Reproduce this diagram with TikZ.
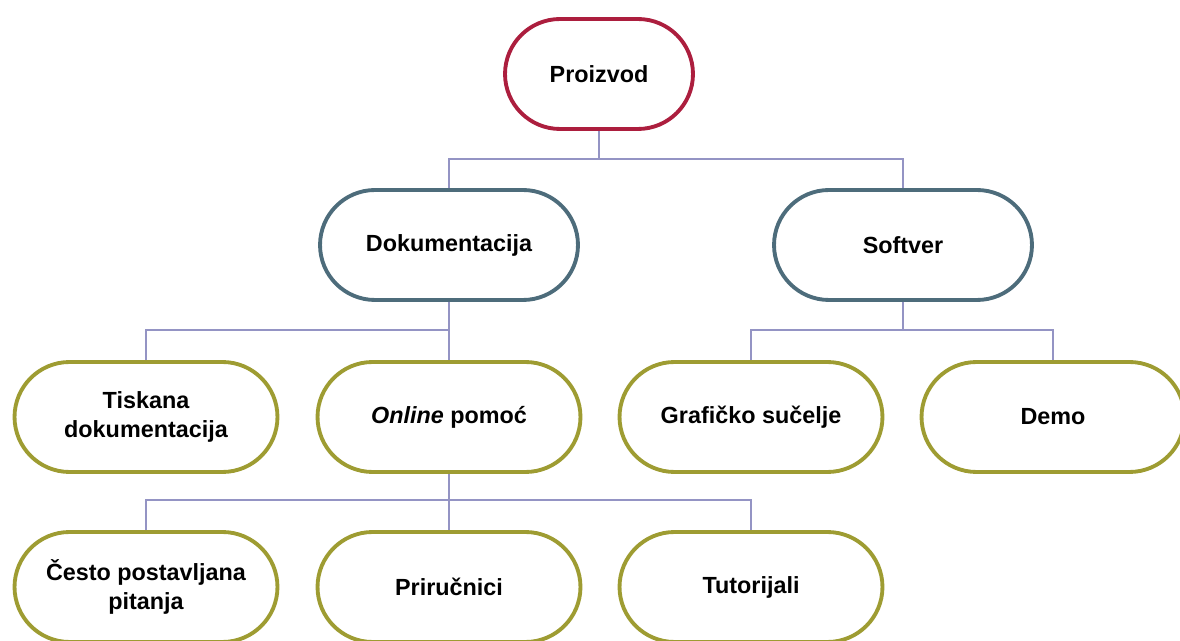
\documentclass[tikz,border=0pt]{standalone}
\usepackage{fontspec}
\setmainfont{Liberation Sans}
\usepackage{tikz}

\definecolor{prodred}{HTML}{AC1E3E}
\definecolor{groupblue}{HTML}{4D6C7B}
\definecolor{leafolive}{HTML}{9E9C32}
\definecolor{linkblue}{HTML}{9494C4}

\begin{document}
\begin{tikzpicture}[x=0.02cm,y=-0.02cm]
    \tikzstyle{pill}=[rectangle,draw,fill=white,line width=2.2pt,rounded corners=1.1cm,minimum height=2.2cm,align=center,font=\fontsize{13.3}{16}\selectfont\bfseries]
    \tikzstyle{root}=[pill,draw=prodred,minimum width=3.76cm]
    \tikzstyle{group}=[pill,draw=groupblue,minimum width=5.16cm]
    \tikzstyle{leaf}=[pill,draw=leafolive,minimum width=5.26cm]
    \tikzstyle{link}=[draw=linkblue,line width=0.9pt]
    \useasboundingbox (0,0) rectangle (1180,641);
    \node (prz) at (599,74)  [root]  {Proizvod};
    \node (dok) at (449,245) [group] {Dokumentacija};
    \node (sof) at (903,245) [group] {Softver};
    \node (tis) at (146,417) [leaf]  {Tiskana\\dokumentacija};
    \node (onl) at (449,417) [leaf]  {\textit{Online} pomoć};
    \node (gra) at (751,417) [leaf]  {Grafičko sučelje};
    \node (dem) at (1053,417) [leaf] {Demo};
    \node (ces) at (146,587) [leaf]  {Često postavljana\\pitanja};
    \node (pri) at (449,587) [leaf]  {Priručnici};
    \node (tut) at (751,587) [leaf]  {Tutorijali};
    \draw [link] (prz.south) -- ++(0,28) -| (dok.north);
    \draw [link] (prz.south) -- ++(0,28) -| (sof.north);
    \draw [link] (dok.south) -- ++(0,28) -| (tis.north);
    \draw [link] (dok.south) -- ++(0,28) -| (onl.north);
    \draw [link] (sof.south) -- ++(0,28) -| (gra.north);
    \draw [link] (sof.south) -- ++(0,28) -| (dem.north);
    \draw [link] (onl.south) -- ++(0,26) -| (ces.north);
    \draw [link] (onl.south) -- ++(0,26) -| (pri.north);
    \draw [link] (onl.south) -- ++(0,26) -| (tut.north);
\end{tikzpicture}
\end{document}
